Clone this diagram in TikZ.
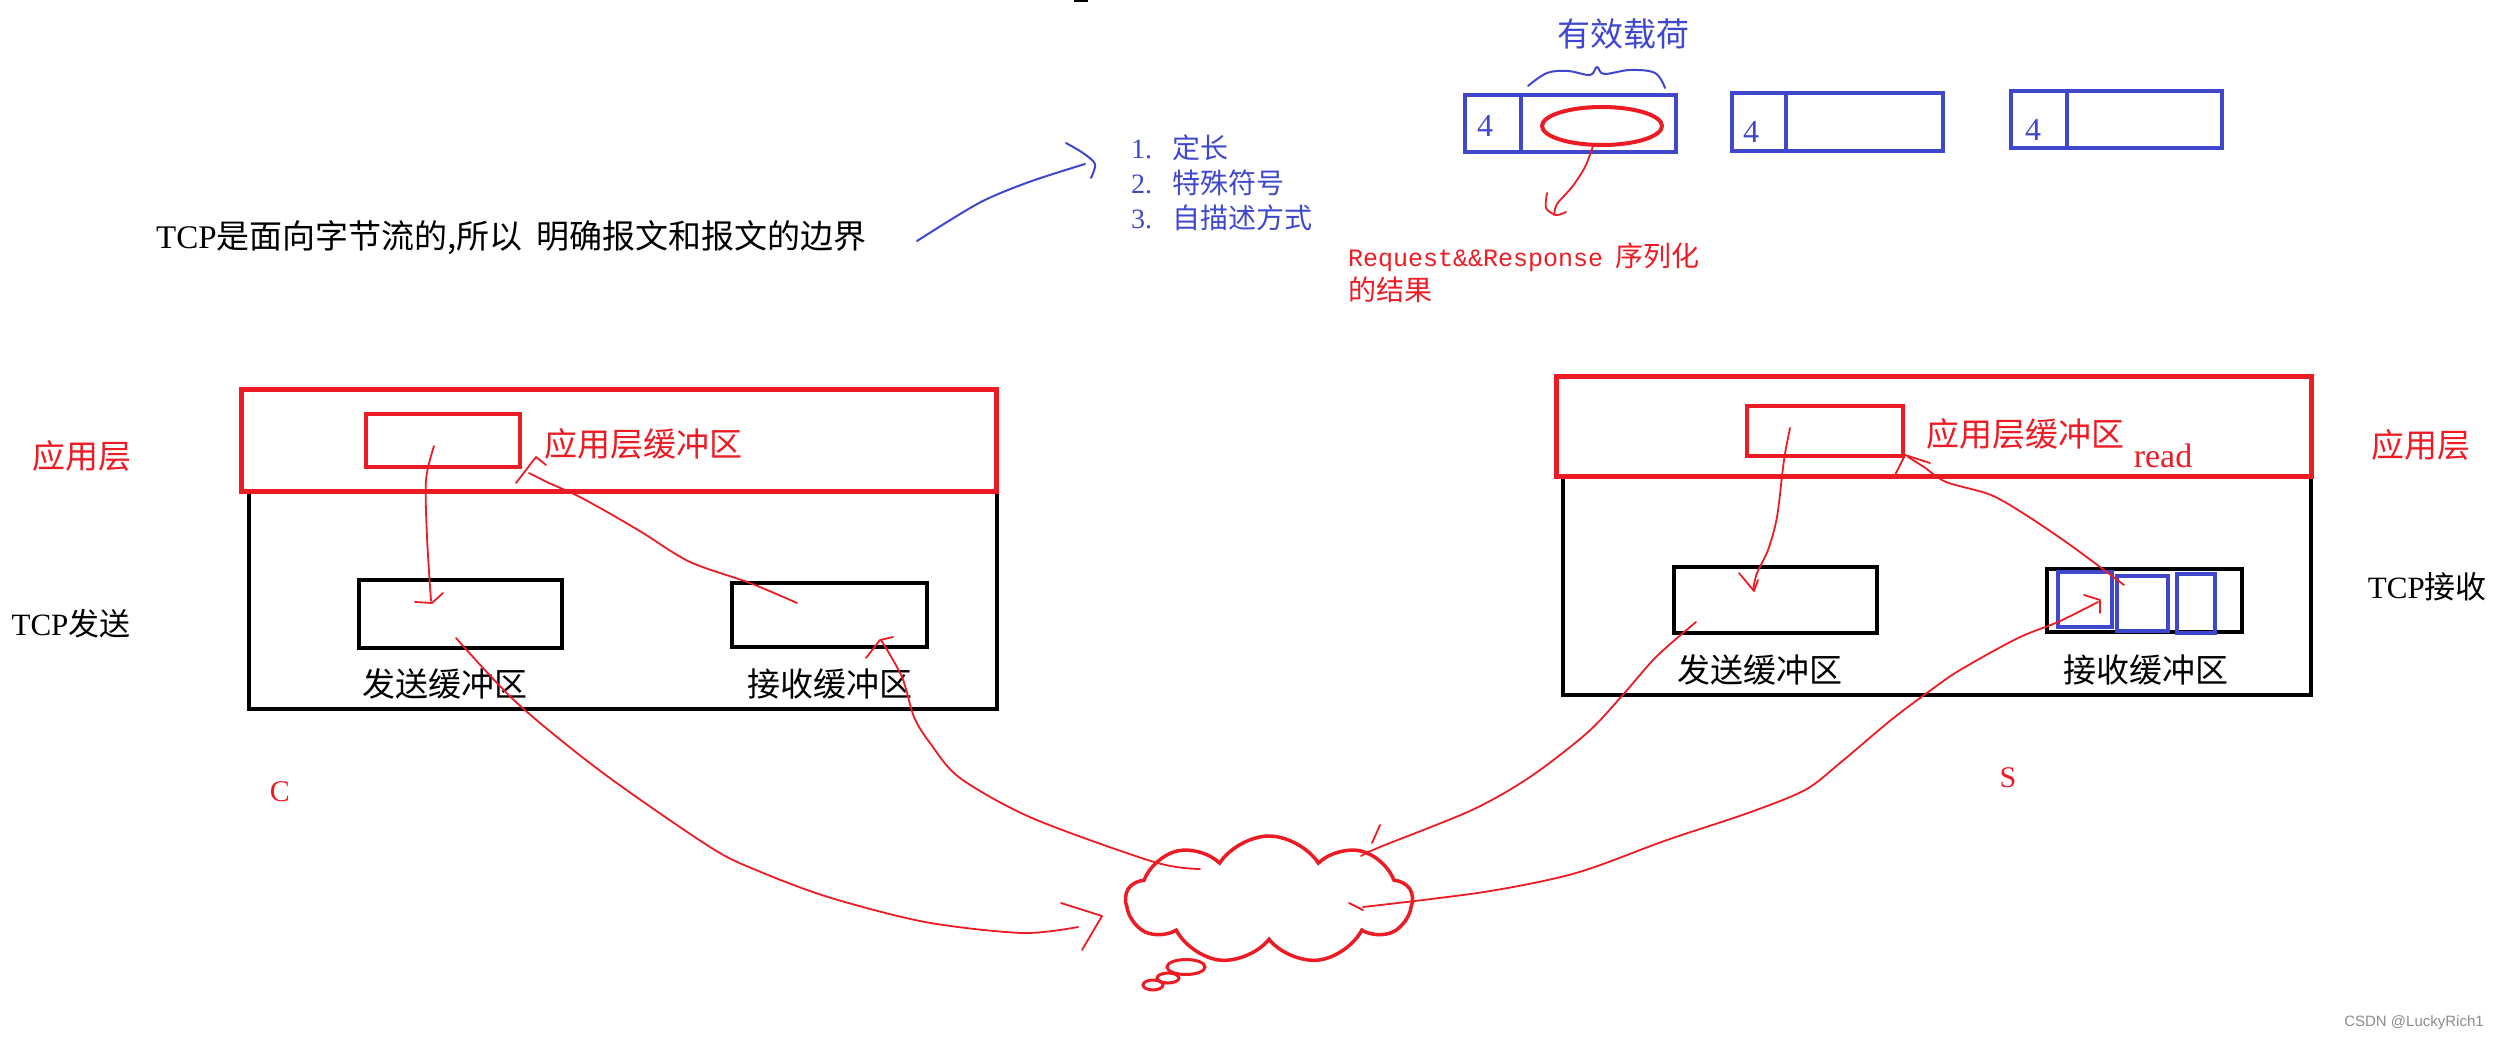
\documentclass[tikz,border=0pt]{standalone}
\usepackage{fontspec}
\setmainfont{Liberation Serif}
\newfontfamily\cjk{Noto Sans CJK SC}
\newfontfamily\monof{Liberation Mono}
\newfontfamily\sansf{Liberation Sans}
\usetikzlibrary{shapes.symbols,shapes.geometric}
\definecolor{pred}{RGB}{237,28,36}
\definecolor{pblue}{RGB}{63,72,204}
\newcommand\fs[1]{\fontsize{#1}{#1}\selectfont}
\begin{document}
\begin{tikzpicture}[x=1pt,y=-1pt,
  redbox/.style={draw=pred, line width=5pt, inner sep=0pt, outer sep=0pt},
  smallred/.style={draw=pred, line width=4pt, inner sep=0pt, outer sep=0pt},
  blackbox/.style={draw=black, line width=4pt, inner sep=0pt, outer sep=0pt},
  bluebox/.style={draw=pblue, line width=4pt, inner sep=0pt, outer sep=0pt},
  redline/.style={draw=pred, line width=1.8pt, line join=round, line cap=round},
  blueline/.style={draw=pblue, line width=2pt, line join=round, line cap=round},
  cjklabel/.style={font={\cjk\fs{33}}, inner sep=0pt},
  listitem/.style={anchor=west, inner sep=0pt, text=pblue, font={\cjk\fs{28}}},
]
\useasboundingbox (0,0) rectangle (2499,1040);
\fill[white] (0,0) rectangle (2499,1040);
% tiny mark at top
\fill[black] (1074,0) rectangle (1088,2);

% ---------- top: text and packets ----------
\node[anchor=west, inner sep=0pt, font={\cjk\fs{33}}] (title) at (156,238) {{\rmfamily TCP}是面向字节流的,所以\hspace{14pt}明确报文和报文的边界};
\node[listitem] (li1) at (1131,148) {{\rmfamily 1.}\hspace{20pt}定长};
\node[listitem] (li2) at (1131,183) {{\rmfamily 2.}\hspace{20pt}特殊符号};
\node[listitem] (li3) at (1131,218) {{\rmfamily 3.}\hspace{20pt}自描述方式};
\node[cjklabel, text=pblue] (payloadlbl) at (1623,34) {有效载荷};

\node[bluebox, minimum width=211pt, minimum height=57pt] (pkt1) at (1570.5,123.5) {};
\node[bluebox, minimum width=211pt, minimum height=58pt] (pkt2) at (1837,122) {};
\node[bluebox, minimum width=211pt, minimum height=57pt] (pkt3) at (2116,119.5) {};
\draw[draw=pblue, line width=4pt] (1521,95) -- (1521,152);
\draw[draw=pblue, line width=4pt] (1786,93) -- (1786,151);
\draw[draw=pblue, line width=4pt] (2067,91) -- (2067,148);
\node[text=pblue, font=\fs{32}, inner sep=0pt] (h1) at (1485,126) {4};
\node[text=pblue, font=\fs{32}, inner sep=0pt] (h2) at (1751,132) {4};
\node[text=pblue, font=\fs{32}, inner sep=0pt] (h3) at (2033,130) {4};
\node[ellipse, draw=pred, line width=4pt, minimum width=120pt, minimum height=38pt, inner sep=0pt] (payload) at (1602,126) {};

% brace
\draw[blueline] plot[smooth, tension=0.6] coordinates {(1528,86) (1547,73) (1568,71) (1590,75) (1597,67) (1604,74) (1630,70) (1655,73) (1665,88)};

\node[anchor=west, inner sep=0pt, text=pred] (req) at (1348,257) {{\monof\fs{25}Request\&\&Response}\hspace{12pt}{\cjk\fs{28}序列化}};
\node[anchor=west, inner sep=0pt, text=pred, font={\cjk\fs{28}}] (req2) at (1348,290) {的结果};

% blue arrow title -> list
\coordinate (ba0) at (917,241);
\coordinate (ba1) at (1085,164);
\draw[blueline] plot[smooth, tension=0.5] coordinates {(ba0) (979,203) (1029,182) (ba1)};
\draw[blueline] plot[smooth, tension=0.5] coordinates {(1066,143) (1083,153) (1095,164) (1091,178)};

% red arrow payload -> text
\coordinate (ra0) at (1593,146);
\coordinate (ra1) at (1554,215);
\draw[redline] plot[smooth, tension=0.5] coordinates {(ra0) (1585,167) (1572,187) (1557,204) (ra1)};
\draw[redline] plot[smooth, tension=0.5] coordinates {(1547,193) (1546,208) (1556,215) (1566,212)};

% ---------- left host ----------
\node[blackbox, minimum width=748pt, minimum height=218pt] (tcpL) at (622.5,600) {};
\node[redbox, minimum width=755pt, minimum height=102pt] (appL) at (619,440) {};
\node[smallred, minimum width=154pt, minimum height=53pt] (abufL) at (443,440.5) {};
\node[blackbox, minimum width=203pt, minimum height=68pt] (sbufL) at (460.5,614) {};
\node[blackbox, minimum width=195pt, minimum height=64pt] (rbufL) at (829.5,615) {};
\node[cjklabel, text=pred] (appLlbl) at (82,456) {应用层};
\node[cjklabel, text=pred] (abufLlbl) at (643,444) {应用层缓冲区};
\node[inner sep=0pt, font={\cjk\fs{31}}] (tcpLlbl) at (71,624) {{\rmfamily TCP}发送};
\node[cjklabel] (sbufLlbl) at (445,684) {发送缓冲区};
\node[cjklabel] (rbufLlbl) at (830,684) {接收缓冲区};
\node[text=pred, font=\fs{30}, inner sep=0pt] (C) at (280,792) {C};

% ---------- right host ----------
\node[blackbox, minimum width=748pt, minimum height=218pt] (tcpR) at (1937,586) {};
\node[redbox, minimum width=755pt, minimum height=100pt] (appR) at (1934,426) {};
\node[smallred, minimum width=156pt, minimum height=50pt] (abufR) at (1825,431) {};
\node[blackbox, minimum width=203pt, minimum height=66pt] (sbufR) at (1775.5,600) {};
\node[blackbox, minimum width=195pt, minimum height=63pt] (rbufR) at (2144.5,600.5) {};
\node[bluebox, minimum width=54pt, minimum height=55pt] (segA) at (2085,599.5) {};
\node[bluebox, minimum width=51pt, minimum height=55pt] (segB) at (2142.5,603.5) {};
\node[bluebox, minimum width=38pt, minimum height=59pt] (segC) at (2196,603.5) {};
\node[cjklabel, text=pred] (appRlbl) at (2421,445) {应用层};
\node[cjklabel, text=pred] (abufRlbl) at (2025,434) {应用层缓冲区};
\node[inner sep=0pt, text=pred, font=\fs{34}] (readlbl) at (2163,456) {read};
\node[anchor=east, inner sep=0pt, font={\cjk\fs{31}}] (tcpRlbl) at (2487,587) {{\rmfamily TCP}接收};
\node[cjklabel] (sbufRlbl) at (1760,670) {发送缓冲区};
\node[cjklabel] (rbufRlbl) at (2146,670) {接收缓冲区};
\node[text=pred, font=\fs{30}, inner sep=0pt] (S) at (2008,778) {S};

% ---------- network cloud ----------
\node[cloud, draw=pred, line width=3.5pt, cloud puffs=9, cloud puff arc=115, aspect=2.2,
      minimum width=286pt, minimum height=128pt, inner sep=0pt] (net) at (1269,900) {};
\draw[draw=pred, line width=3pt] (1186,967) ellipse [x radius=19, y radius=7.5];
\draw[draw=pred, line width=3pt] (1168,978) ellipse [x radius=11, y radius=5];
\draw[draw=pred, line width=3pt] (1153,985) ellipse [x radius=10, y radius=5];

% ---------- red connectors ----------
% left: app buffer -> send buffer
\coordinate (c1s) at (434,446);
\coordinate (c1e) at (431,601);
\draw[redline] plot[smooth, tension=0.5] coordinates {(c1s) (426,480) (427,537) (c1e)};
\draw[redline] (415,602) -- (432,603) -- (443,593);
% left: recv buffer -> app buffer
\coordinate (c2s) at (797,603);
\coordinate (c2e) at (529,473);
\draw[redline] plot[smooth, tension=0.5] coordinates {(c2s) (750,583) (690,562) (643,533) (609,513) (576,495) (549,483) (c2e)};
\draw[redline] (516,483) -- (536,457) -- (546,465);
% left: send buffer -> cloud
\coordinate (c3s) at (456,638);
\coordinate (c3e) at (1078,927);
\draw[redline] plot[smooth, tension=0.5] coordinates {(c3s) (517,703) (603,773) (710,847) (756,870) (828,897) (925,922) (1022,933) (c3e)};
\draw[redline] (1061,903) -- (1102,916) -- (1082,950);
% left: cloud -> recv buffer
\coordinate (c4s) at (1200,869);
\coordinate (c4e) at (881,640);
\draw[redline] plot[smooth, tension=0.5] coordinates {(c4s) (1154,862) (1032,818) (960,778) (930,743) (914,717) (902,677) (c4e)};
\draw[redline] (866,658) -- (880,640) -- (893,637);
% right: cloud -> send buffer
\coordinate (c5s) at (1361,856);
\coordinate (c5e) at (1696,622);
\draw[redline] plot[smooth, tension=0.5] coordinates {(c5s) (1380,847) (1472,810) (1530,777) (1587,733) (1621,697) (1656,657) (c5e)};
\draw[redline] (1380,825) -- (1372,843);
% right: cloud -> recv buffer
\coordinate (c6s) at (1363,907);
\coordinate (c6e) at (2098,602);
\draw[redline] plot[smooth, tension=0.5] coordinates {(c6s) (1484,892) (1576,873) (1667,840) (1748,813) (1805,790) (1840,763) (1891,720) (1931,690) (1960,670) (2018,638) (2058,622) (c6e)};
\draw[redline] (2084,595) -- (2100,600) -- (2100,613);
\draw[redline] (1349,903) -- (1363,910);
% right: app buffer -> send buffer
\coordinate (c7s) at (1790,428);
\coordinate (c7e) at (1753,590);
\draw[redline] plot[smooth, tension=0.5] coordinates {(c7s) (1784,460) (1777,517) (1768,550) (1757,573) (c7e)};
\draw[redline] (1739,573) -- (1754,591) -- (1758,580);
% right: recv buffer -> app buffer (read)
\coordinate (c8s) at (2124,585);
\coordinate (c8e) at (1908,457);
\draw[redline] plot[smooth, tension=0.5] coordinates {(c8s) (2073,547) (2029,517) (1991,495) (1946,482) (1924,467) (c8e)};
\draw[redline] (1895,475) -- (1905,455) -- (1930,463);

% watermark
\node[text=black!45, font={\sansf\fs{15}}, inner sep=0pt] (wm) at (2414,1023) {CSDN @LuckyRich1};
\end{tikzpicture}
\end{document}
